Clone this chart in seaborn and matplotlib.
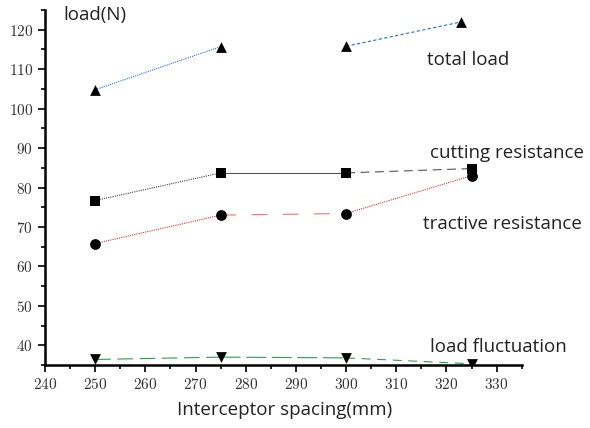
import matplotlib
matplotlib.use("Agg")
import matplotlib.pyplot as plt
import seaborn as sns
import pandas as pd
from matplotlib.ticker import MultipleLocator

plt.rcParams['font.family'] = ['cmr10', 'DejaVu Serif']
plt.rcParams['axes.formatter.use_mathtext'] = True

spacing = [250, 275, 300, 325]
total_x = [250, 275, 300, 323]
total_load = [104.8, 115.7, 115.8, 122.0]
cutting = [76.7, 83.7, 83.7, 84.8]
tractive = [65.8, 73.0, 73.4, 83.0]
fluct = [36.4, 37.0, 36.8, 35.3]

series = [
    ("total load", total_x, total_load, "^", ["#1f6fe0", None, "#1f6fe0"], [(0, (1, 1)), None, (0, (3, 2))]),
    ("cutting resistance", spacing, cutting, "s", ["#444444", "#555555", "#555555"], [(0, (1, 1)), "-", (0, (8, 5))]),
    ("tractive resistance", spacing, tractive, "o", ["#e83030", "#f07070", "#e83030"], [(0, (1, 1)), (0, (14, 14)), (0, (1, 1))]),
    ("load fluctuation", spacing, fluct, "v", ["#2aa050", "#2aa050", "#2aa050"], [(0, (14, 6)), (0, (18, 5)), (0, (8, 6))]),
]

labels = {"total load": (427, 60), "cutting resistance": (430, 153),
          "tractive resistance": (423, 224), "load fluctuation": (430, 347)}

fig = plt.figure(figsize=(5.9, 4.28), dpi=100)
ax = fig.add_axes([45/590, 1-365/428, (521.7-45)/590, (365-10)/428])

for name, xs, ys, mk, cols, styles in series:
    for i in range(3):
        if cols[i] is None:
            continue
        seg = pd.DataFrame({"x": xs[i:i+2], "y": ys[i:i+2]})
        sns.lineplot(data=seg, x="x", y="y", ax=ax, color=cols[i], linewidth=0.8,
                     linestyle=styles[i], sort=False, estimator=None)
    pts = pd.DataFrame({"x": xs, "y": ys})
    sns.scatterplot(data=pts, x="x", y="y", ax=ax, marker=mk, color="black",
                    s=60 if mk != "s" else 45, edgecolor="black", linewidth=0, zorder=5)

for name, (px, py) in labels.items():
    fig.text(px/590, 1-py/428, name, fontsize=13.5, family="Open Sans",
             color="#222222", ha="left", va="center")
fig.text(63/590, 1-15/428, "load(N)", fontsize=13.5, family="Open Sans",
         color="#222222", ha="left", va="center")

ax.set_xlim(240, 335)
ax.set_ylim(35, 125)
ax.xaxis.set_major_locator(MultipleLocator(10))
ax.xaxis.set_minor_locator(MultipleLocator(5))
ax.set_yticks(range(40, 121, 10))
ax.yaxis.set_minor_locator(MultipleLocator(5))
for s in ["top", "right"]:
    ax.spines[s].set_visible(False)
for s in ["left", "bottom"]:
    ax.spines[s].set_linewidth(1.8)
    ax.spines[s].set_color("black")
ax.tick_params(which="major", direction="out", length=5, width=1.2, labelsize=11,
               labelcolor="#333333")
ax.tick_params(which="minor", direction="out", length=3, width=1.2)
ax.set_xlabel("")
ax.set_ylabel("")
fig.text(285/590, 1-410/428, "Interceptor spacing(mm)", fontsize=13.5, family="Open Sans",
         color="#222222", ha="center", va="center")
ax.set_facecolor("white")
fig.savefig("out.png", dpi=100, facecolor="white")
